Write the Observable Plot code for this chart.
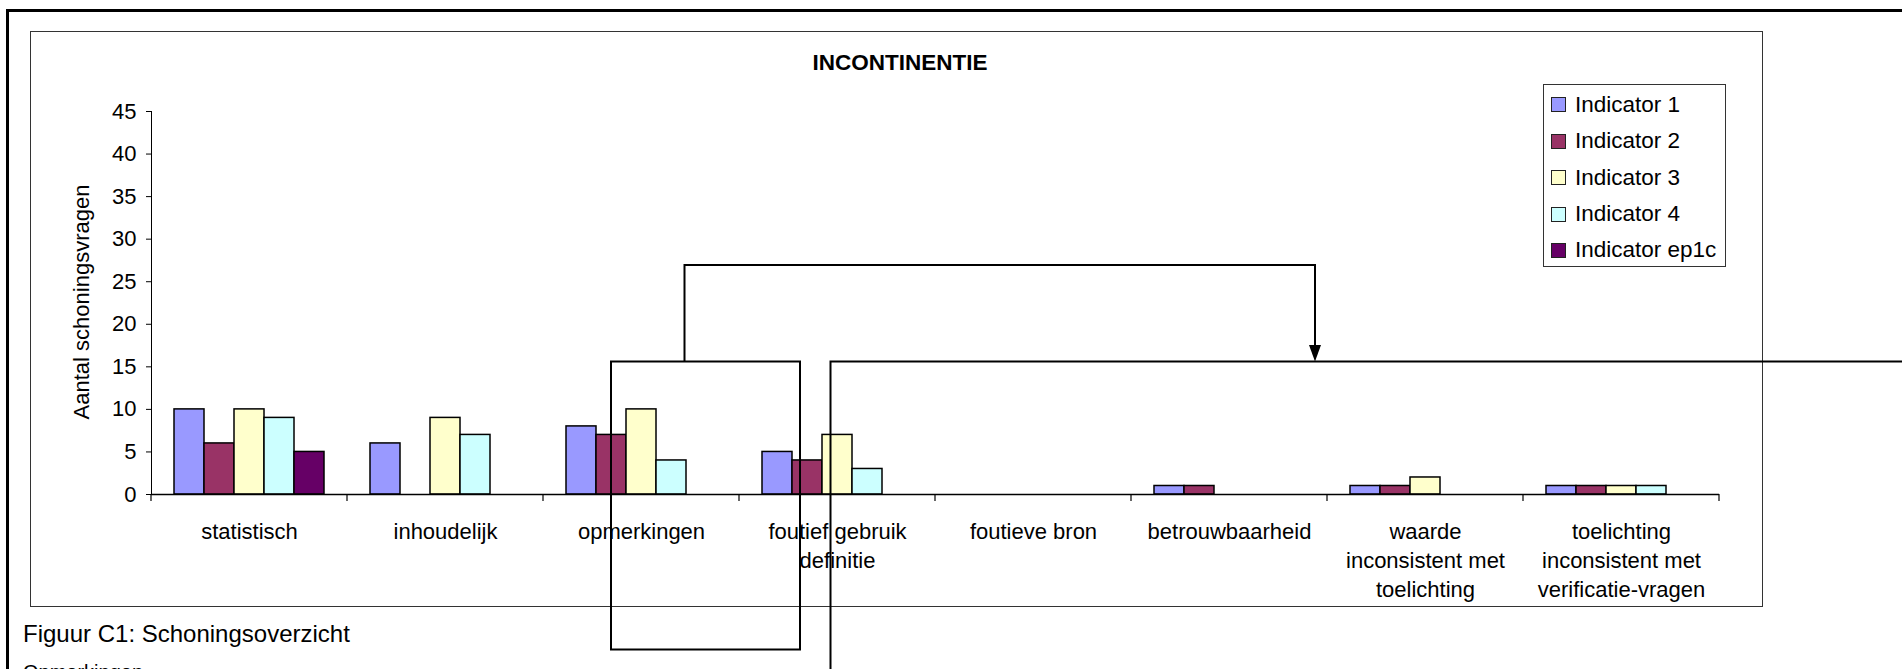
<!DOCTYPE html>
<html>
<head>
<meta charset="utf-8">
<script src="https://cdn.jsdelivr.net/npm/d3@7"></script>
<script src="https://cdn.jsdelivr.net/npm/@observablehq/plot@0.6"></script>
<style>
  html, body { margin: 0; padding: 0; background: #fff; }
  #page { position: relative; width: 1902px; height: 669px; overflow: hidden;
          font-family: "Liberation Sans", Arial, sans-serif; color: #000; }
  .abs { position: absolute; }
  #legend .row { position: absolute; left: 7px; height: 24px; display: flex; align-items: center; white-space: nowrap; }
  #legend .sw { width: 13px; height: 13px; border: 1.5px solid #222; margin-right: 9px; box-sizing: content-box; }
</style>
</head>
<body>
<div id="page">
  <div class="abs" style="left:6px;top:9px;width:2000px;height:800px;border-left:3px solid #000;border-top:3px solid #000;"></div>
  <div class="abs" style="left:30px;top:31px;width:1731px;height:574px;border:1.5px solid #333;"></div>
  <div class="abs" id="chart" style="left:0;top:0;"></div>
  <div class="abs" id="title" style="left:700px;width:400px;top:50px;text-align:center;font-weight:bold;font-size:22.5px;line-height:26px;">INCONTINENTIE</div>
  <div class="abs" id="ylabel" style="left:82px;top:302px;transform:translate(-50%,-50%) rotate(-90deg);font-size:22px;white-space:nowrap;">Aantal schoningsvragen</div>
  <div class="abs" id="legend" style="left:1543px;top:84px;width:181px;height:181px;border:1.5px solid #333;background:#fff;font-size:22.5px;"></div>
  <div class="abs" style="left:23px;top:620px;font-size:24px;line-height:28px;white-space:nowrap;">Figuur C1: Schoningsoverzicht</div>
  <div class="abs" style="left:23px;top:661px;font-size:20px;line-height:22px;white-space:nowrap;">Opmerkingen</div>
  <svg class="abs" id="overlay" style="left:0;top:0;" width="1902" height="669"></svg>
</div>
<script>
// ---- data ----
const categories = [
  "statistisch",
  "inhoudelijk",
  "opmerkingen",
  "foutief gebruik\ndefinitie",
  "foutieve bron",
  "betrouwbaarheid",
  "waarde\ninconsistent met\ntoelichting",
  "toelichting\ninconsistent met\nverificatie-vragen"
];
const series = ["Indicator 1", "Indicator 2", "Indicator 3", "Indicator 4", "Indicator ep1c"];
const indicator1    = [10, 6, 8, 5, 0, 1, 1, 1];
const indicator2    = [6, 0, 7, 4, 0, 1, 1, 1];
const indicator3    = [10, 9, 10, 7, 0, 0, 2, 1];
const indicator4    = [9, 7, 4, 3, 0, 0, 0, 1];
const indicatorEp1c = [5, 0, 0, 0, 0, 0, 0, 0];
const seriesColors  = ["#9999FF", "#993366", "#FFFFCC", "#CCFFFF", "#660066"];
const yTicks = [0, 5, 10, 15, 20, 25, 30, 35, 40, 45];

const seriesValues = [indicator1, indicator2, indicator3, indicator4, indicatorEp1c];
const data = [];
categories.forEach((c, i) => series.forEach((s, j) => {
  const v = seriesValues[j][i];
  if (v > 0) data.push({cat: c, ser: s, v});
}));

const plot = Plot.plot({
  width: 1902,
  height: 669,
  marginLeft: 148,
  marginRight: 180,
  marginTop: 111,
  marginBottom: 175,
  style: {fontFamily: "Liberation Sans, Arial, sans-serif", fontSize: "22px", background: "transparent", color: "#000", overflow: "visible"},
  facet: {marginTop: 0, marginBottom: 0, marginLeft: 0, marginRight: 0},
  fx: {domain: categories, padding: 0, axis: null},
  x: {domain: series, paddingInner: 0, paddingOuter: 0.735, align: 0.5, axis: null},
  y: {domain: [0, 45], ticks: yTicks, tickSize: 5, tickPadding: 10, line: true, label: null},
  color: {domain: series, range: seriesColors},
  marks: [
    Plot.barY(data, {fx: "cat", x: "ser", y: "v", fill: "ser", stroke: "#000", strokeWidth: 1.5}),
    Plot.ruleY([0], {stroke: "#000", strokeWidth: 1.5}),
    Plot.text(categories, {fx: d => d, text: d => d, frameAnchor: "bottom", lineAnchor: "top", dy: 24, lineHeight: 1.32, fontSize: 22, fill: "#000"})
  ]
});
document.getElementById("chart").appendChild(plot);

// category boundary ticks from the library's fx scale
const fxs = plot.scale("fx");
const ys = plot.scale("y");
const y0 = ys.apply(0);
const sel = d3.select(plot);
const bounds = categories.map(c => fxs.apply(c));
bounds.push(fxs.apply(categories[categories.length - 1]) + fxs.bandwidth);
sel.append("g").selectAll("line").data(bounds).join("line")
  .attr("x1", d => d).attr("x2", d => d)
  .attr("y1", y0).attr("y2", y0 + 7)
  .attr("stroke", "#000").attr("stroke-width", 1.2);

// legend
const legend = d3.select("#legend");
const rowCenters = [19.6, 56, 92.6, 129.3, 165.3];
series.forEach((s, i) => {
  const row = legend.append("div").attr("class", "row").style("top", (rowCenters[i] - 12) + "px");
  row.append("div").attr("class", "sw").style("background", seriesColors[i]);
  row.append("span").text(s);
});

// overlay connector shapes (document drawing on top of the chart)
const ov = d3.select("#overlay");
ov.append("rect").attr("x", 611).attr("y", 361.5).attr("width", 189).attr("height", 288)
  .attr("fill", "none").attr("stroke", "#000").attr("stroke-width", 2);
ov.append("path").attr("d", "M684.5,361.5V265H1315V347")
  .attr("fill", "none").attr("stroke", "#000").attr("stroke-width", 2);
ov.append("path").attr("d", "M1315,361.5L1309,345L1321,345Z").attr("fill", "#000");
ov.append("path").attr("d", "M1910,361.5H830.5V680")
  .attr("fill", "none").attr("stroke", "#000").attr("stroke-width", 2);
</script>
</body>
</html>
